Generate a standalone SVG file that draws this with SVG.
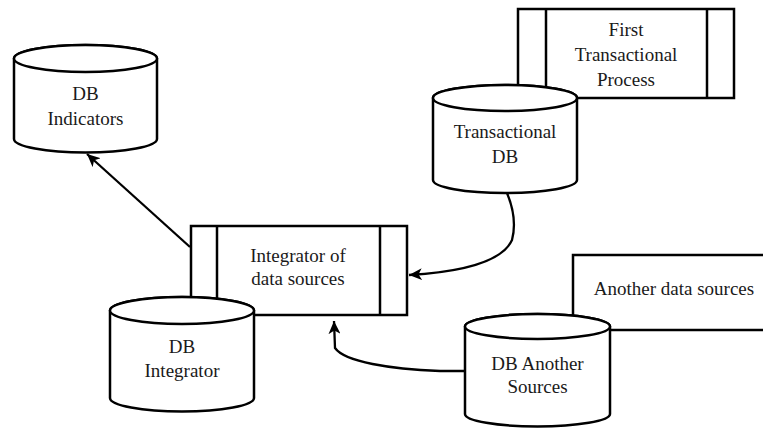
<svg xmlns="http://www.w3.org/2000/svg" width="763" height="428" viewBox="0 0 763 428">
<style>
.s{fill:#fff;stroke:#000;stroke-width:2.5}
.l{fill:none;stroke:#000;stroke-width:2.3}
</style>
<rect width="763" height="428" fill="#fff"/>
<g id="first-transactional-process">
<rect class="s" x="518" y="9" width="216" height="89"/>
<line class="s" x1="546" y1="9" x2="546" y2="98"/>
<line class="s" x1="707" y1="9" x2="707" y2="98"/>
<text x="626" y="36" font-family="'Liberation Serif', serif" font-size="19" fill="#1a1a1a" text-anchor="middle">First</text>
<text x="626" y="61" font-family="'Liberation Serif', serif" font-size="19" fill="#1a1a1a" text-anchor="middle">Transactional</text>
<text x="626" y="86" font-family="'Liberation Serif', serif" font-size="19" fill="#1a1a1a" text-anchor="middle">Process</text>
</g>
<g id="integrator">
<rect class="s" x="191" y="226" width="216" height="89"/>
<line class="s" x1="217" y1="226" x2="217" y2="315"/>
<line class="s" x1="380" y1="226" x2="380" y2="315"/>
<text x="298" y="262" font-family="'Liberation Serif', serif" font-size="19" fill="#1a1a1a" text-anchor="middle">Integrator of</text>
<text x="298" y="285" font-family="'Liberation Serif', serif" font-size="19" fill="#1a1a1a" text-anchor="middle">data sources</text>
</g>
<g id="another-data-sources">
<rect class="s" x="573" y="255" width="201" height="75"/>
<text x="674" y="295" font-family="'Liberation Serif', serif" font-size="19" fill="#1a1a1a" text-anchor="middle">Another data sources</text>
</g>
<g id="db-indicators">
<path class="s" d="M14,58.5 L14,139 A71.5,13.5 0 0 0 157,139 L157,58.5 A71.5,13.5 0 0 0 14,58.5 Z"/>
<ellipse class="s" cx="85.5" cy="58.5" rx="71.5" ry="13.5"/>
<text x="85.5" y="100" font-family="'Liberation Serif', serif" font-size="19" fill="#1a1a1a" text-anchor="middle">DB</text>
<text x="85.5" y="125" font-family="'Liberation Serif', serif" font-size="19" fill="#1a1a1a" text-anchor="middle">Indicators</text>
</g>
<g id="transactional-db">
<path class="s" d="M433,98 L433,180 A72,13 0 0 0 577,180 L577,98 A72,13 0 0 0 433,98 Z"/>
<ellipse class="s" cx="505" cy="98" rx="72" ry="13"/>
<text x="505" y="138" font-family="'Liberation Serif', serif" font-size="19" fill="#1a1a1a" text-anchor="middle">Transactional</text>
<text x="505" y="163" font-family="'Liberation Serif', serif" font-size="19" fill="#1a1a1a" text-anchor="middle">DB</text>
</g>
<g id="db-integrator">
<path class="s" d="M110,310.5 L110,398 A72,13.5 0 0 0 254,398 L254,310.5 A72,13.5 0 0 0 110,310.5 Z"/>
<ellipse class="s" cx="182" cy="310.5" rx="72" ry="13.5"/>
<text x="182" y="353" font-family="'Liberation Serif', serif" font-size="19" fill="#1a1a1a" text-anchor="middle">DB</text>
<text x="182" y="377" font-family="'Liberation Serif', serif" font-size="19" fill="#1a1a1a" text-anchor="middle">Integrator</text>
</g>
<g id="db-another-sources">
<path class="s" d="M465,326.5 L465,414 A72.5,12.5 0 0 0 610,414 L610,326.5 A72.5,12.5 0 0 0 465,326.5 Z"/>
<ellipse class="s" cx="537.5" cy="326.5" rx="72.5" ry="12.5"/>
<text x="537.5" y="370" font-family="'Liberation Serif', serif" font-size="19" fill="#1a1a1a" text-anchor="middle">DB Another</text>
<text x="537.5" y="393" font-family="'Liberation Serif', serif" font-size="19" fill="#1a1a1a" text-anchor="middle">Sources</text>
</g>
<g id="connectors">
<line class="l" x1="190" y1="247" x2="87" y2="154" marker-end="url(#ah)"/>
<path class="l" d="M507,193 C514,210 516,225 512,240 C502,262 460,272 409,275" marker-end="url(#ah)"/>
<path class="l" d="M465,371 L440,371 C390,369 345,362 335,348 L334,321" marker-end="url(#ah)"/>
</g>
<defs>
<marker id="ah" markerUnits="userSpaceOnUse" markerWidth="14" markerHeight="12" refX="13" refY="6" orient="auto">
<path d="M0,0 L13,6 L0,12 L3.5,6 Z" fill="#000"/>
</marker>
</defs>
</svg>
